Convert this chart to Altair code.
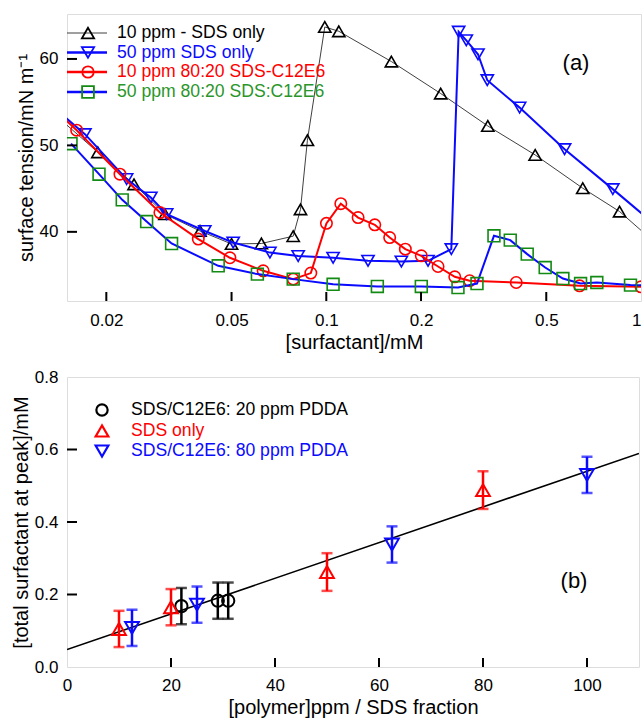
import altair as alt
import pandas as pd

FONT = "Liberation Sans"
BLUE = "#0a0aff"
RED = "#ff0000"
GREEN = "#138a13"
GREEN_TXT = "#2a962a"
BLACK = "#000000"
GRAY = "#404040"

# ---------------- panel (a): surface tension vs [surfactant] ----------------
sds10_conc = [0.0135, 0.0188, 0.0245, 0.0307, 0.0397, 0.0500, 0.0622, 0.0785, 0.0828,
              0.0871, 0.0989, 0.1096, 0.161, 0.231, 0.326, 0.461, 0.653, 0.855, 1.12]
sds10_st = [53.8, 49.2, 45.5, 42.05, 40.1, 38.6, 38.65, 39.5, 42.6,
            50.6, 63.7, 63.2, 59.7, 56.0, 52.25, 48.9, 45.05, 42.35, 38.6]

sds50_conc = [0.0128, 0.0171, 0.0232, 0.0277, 0.0311, 0.0411, 0.0506, 0.0662, 0.0814,
              0.1051, 0.1357, 0.1732, 0.2105, 0.2496, 0.2634, 0.2785, 0.3034, 0.3248,
              0.4114, 0.5718, 0.8137, 1.14]
sds50_st = [55.2, 51.3, 46.1, 43.97, 42.05, 40.1, 38.76, 37.6, 37.2,
            37.0, 36.65, 36.57, 36.65, 38.0, 63.15, 62.16, 60.54, 57.54,
            54.37, 49.56, 44.94, 40.45]

mix10_conc = [0.0125, 0.0161, 0.0221, 0.0296, 0.0392, 0.0494, 0.0630, 0.0785, 0.0893,
              0.1001, 0.1112, 0.1262, 0.1426, 0.159, 0.1783, 0.2004, 0.2265, 0.256,
              0.2855, 0.4014, 0.638, 1.0]
mix10_st = [55.5, 51.76, 46.67, 42.23, 39.16, 37.0, 35.49, 34.53, 35.23,
            40.98, 43.26, 41.65, 40.81, 39.34, 38.0, 37.23, 35.99, 34.8,
            34.34, 34.14, 33.76, 33.64]

mix50_conc = [0.01545, 0.01896, 0.02247, 0.02686, 0.03224, 0.04535, 0.0604, 0.0785,
              0.1051, 0.1453, 0.2004, 0.2621, 0.3012, 0.341, 0.3842, 0.435, 0.4961,
              0.5647, 0.6427, 0.7238, 0.926, 1.2]
mix50_st = [50.2, 46.67, 43.7, 41.19, 38.65, 36.07, 35.11, 34.53,
            33.93, 33.68, 33.68, 33.56, 34.02, 39.54, 39.04, 37.42, 35.87,
            34.6, 34.02, 34.14, 33.84, 33.75]

a_names = ["10 ppm - SDS only", "50 ppm SDS only", "10 ppm 80:20 SDS-C12E6", "50 ppm 80:20 SDS:C12E6"]
a_xticks = [0.02, 0.05, 0.1, 0.2, 0.5]
a_yticks = [40, 50, 60]
a_xlabels = [0.02, 0.05, 0.1, 0.2, 0.5, 1]

# ---------------- panel (b): surfactant at peak vs polymer ----------------
c20_x = [22, 29, 31]
c20_y = [0.168, 0.183, 0.183]
c20_e = [0.05, 0.05, 0.05]

sds_x = [10, 20, 50, 80]
sds_y = [0.105, 0.165, 0.262, 0.488]
sds_e = [0.05, 0.05, 0.052, 0.052]

c80_x = [12.5, 25, 62.5, 100]
c80_y = [0.108, 0.172, 0.338, 0.53]
c80_e = [0.05, 0.05, 0.05, 0.05]

b_names = ["SDS/C12E6: 20 ppm PDDA", "SDS only", "SDS/C12E6: 80 ppm PDDA"]
b_xticks = [20, 40, 60, 80, 100]
b_yticks = [0.2, 0.4, 0.6]

# ---------------------------------------------------------------------------
WA, HA = 574, 287
WB, HB = 572, 290
LEGFS = 17.6

xa_scale = alt.Scale(type="log", domain=[0.015, 1.0], nice=False)
ya_scale = alt.Scale(domain=[32.0, 65.2], nice=False, zero=False)

common_axis = dict(ticks=False, tickSize=0, domain=False, grid=False,
                   labelFontSize=17, labelFont=FONT, labelColor="black",
                   titleFontSize=20, titleFont=FONT, titleFontWeight="normal",
                   titleColor="black", labelOverlap=False)

xa_axis = alt.Axis(values=a_xlabels, format="~g", labelFlush=True, labelPadding=11,
                   title="[surfactant]/mM", titlePadding=4, **common_axis)
ya_axis = alt.Axis(values=a_yticks, format="d", labelPadding=9,
                   title="surface tension/mN m\u207b\u00b9", titlePadding=3, **common_axis)


def xa(field):
    return alt.X(field, type="quantitative", scale=xa_scale, axis=xa_axis)


def ya(field):
    return alt.Y(field, type="quantitative", scale=ya_scale, axis=ya_axis)


def one():
    return alt.Chart(pd.DataFrame({"d": [0]}))


series_a = [
    (sds10_conc, sds10_st, GRAY, 1.0, BLACK, "triangle-up", 150),
    (sds50_conc, sds50_st, BLUE, 2.0, BLUE, "triangle-down", 150),
    (mix10_conc, mix10_st, RED, 2.0, RED, "circle", 130),
    (mix50_conc, mix50_st, BLUE, 2.0, GREEN, "square", 140),
]

layers_a = []
for conc, st, lc, lw, pc, shp, sz in series_a:
    df = pd.DataFrame({"c": conc, "s": st, "i": list(range(len(conc)))})
    base = alt.Chart(df).encode(x=xa("c"), y=ya("s"), order=alt.Order("i:Q"))
    layers_a.append(base.mark_line(clip=True, color=lc, strokeWidth=lw))
    layers_a.append(base.mark_point(clip=True, shape=shp, filled=False, color=pc,
                                    size=sz, strokeWidth=1.6, opacity=1))

# inward ticks
layers_a.append(alt.Chart(pd.DataFrame({"t": a_xticks})).mark_rule(color="black", strokeWidth=2)
                .encode(x=xa("t"), y=alt.value(HA), y2=alt.value(HA - 9)))
layers_a.append(alt.Chart(pd.DataFrame({"t": a_yticks})).mark_rule(color="black", strokeWidth=2)
                .encode(y=ya("t"), x=alt.value(0), x2=alt.value(10)))

# legend (a)
leg_a_y = [19, 38.5, 58, 78]
leg_a_text = [BLACK, BLUE, RED, GREEN_TXT]
for k, (conc, st, lc, lw, pc, shp, sz) in enumerate(series_a):
    yy = leg_a_y[k]
    layers_a.append(one().mark_rule(color=lc, strokeWidth=lw + (0.5 if lw > 1 else 0))
                    .encode(x=alt.value(0), x2=alt.value(40), y=alt.value(yy)))
    layers_a.append(one().mark_point(shape=shp, filled=False, color=pc, size=sz,
                                     strokeWidth=1.8, opacity=1)
                    .encode(x=alt.value(21), y=alt.value(yy)))
    layers_a.append(one().mark_text(align="left", baseline="middle", fontSize=LEGFS, font=FONT,
                                    color=leg_a_text[k])
                    .encode(x=alt.value(50), y=alt.value(yy), text=alt.value(a_names[k])))

layers_a.append(one().mark_text(align="center", baseline="middle", fontSize=22, font=FONT,
                                color="black")
                .encode(x=alt.value(509), y=alt.value(49), text=alt.value("(a)")))

panel_a = alt.layer(*layers_a).properties(width=WA, height=HA)

# ---------------------------------------------------------------------------
xb_scale = alt.Scale(domain=[0, 110], nice=False)
yb_scale = alt.Scale(domain=[0, 0.8], nice=False)
xb_axis = alt.Axis(values=[0, 20, 40, 60, 80, 100], format="d", labelFlush=False,
                   labelPadding=10, title="[polymer]ppm / SDS fraction", titlePadding=4,
                   **common_axis)
yb_axis = alt.Axis(values=[0, 0.2, 0.4, 0.6, 0.8], format=".1f", labelFlush=False,
                   labelPadding=9, title="[total surfactant at peak]/mM", titlePadding=3,
                   **common_axis)


def xb(field):
    return alt.X(field, type="quantitative", scale=xb_scale, axis=xb_axis)


def yb(field):
    return alt.Y(field, type="quantitative", scale=yb_scale, axis=yb_axis)


series_b = [
    (c20_x, c20_y, c20_e, BLACK, "circle", 150),
    (sds_x, sds_y, sds_e, RED, "triangle-up", 190),
    (c80_x, c80_y, c80_e, BLUE, "triangle-down", 190),
]

all_b = pd.DataFrame({
    "p": c20_x + sds_x + c80_x,
    "t": c20_y + sds_y + c80_y,
})

layers_b = [
    alt.Chart(all_b).transform_regression("p", "t", extent=[0, 110])
    .mark_line(color="black", strokeWidth=1.6, clip=True)
    .encode(x=xb("p"), y=yb("t"))
]

for xs, ys, es, col, shp, sz in series_b:
    df = pd.DataFrame({"p": xs, "t": ys, "e": es})
    base = alt.Chart(df).transform_calculate(lo="datum.t - datum.e", hi="datum.t + datum.e")
    layers_b.append(base.mark_rule(color=col, strokeWidth=2.5)
                    .encode(x=xb("p"), y=yb("lo"), y2="hi:Q"))
    layers_b.append(base.mark_tick(color=col, orient="horizontal", size=11, thickness=2.5)
                    .encode(x=xb("p"), y=yb("lo")))
    layers_b.append(base.mark_tick(color=col, orient="horizontal", size=11, thickness=2.5)
                    .encode(x=xb("p"), y=yb("hi")))
    layers_b.append(base.mark_point(shape=shp, filled=False, color=col, size=sz,
                                    strokeWidth=2, opacity=1)
                    .encode(x=xb("p"), y=yb("t")))

layers_b.append(alt.Chart(pd.DataFrame({"t": b_xticks})).mark_rule(color="black", strokeWidth=2)
                .encode(x=xb("t"), y=alt.value(HB), y2=alt.value(HB - 9)))
layers_b.append(alt.Chart(pd.DataFrame({"t": b_yticks})).mark_rule(color="black", strokeWidth=2)
                .encode(y=yb("t"), x=alt.value(0), x2=alt.value(10)))

leg_b_y = [33, 54, 74]
for k, (xs, ys, es, col, shp, sz) in enumerate(series_b):
    yy = leg_b_y[k]
    layers_b.append(one().mark_point(shape=shp, filled=False, color=col, size=sz * 0.85,
                                     strokeWidth=2.2, opacity=1)
                    .encode(x=alt.value(35), y=alt.value(yy)))
    layers_b.append(one().mark_text(align="left", baseline="middle", fontSize=LEGFS, font=FONT,
                                    color=col)
                    .encode(x=alt.value(64), y=alt.value(yy), text=alt.value(b_names[k])))

layers_b.append(one().mark_text(align="center", baseline="middle", fontSize=22, font=FONT,
                                color="black")
                .encode(x=alt.value(507), y=alt.value(204), text=alt.value("(b)")))

panel_b = alt.layer(*layers_b).properties(width=WB, height=HB)

chart = (
    alt.vconcat(panel_a, panel_b, spacing=14)
    .properties(padding={"left": 10, "top": 13, "right": 0, "bottom": 0}, background="white")
    .configure_view(stroke="black", strokeWidth=2.5)
    .configure(font=FONT)
)

chart.save("out.html", embed_options={"renderer": "svg", "actions": False})
